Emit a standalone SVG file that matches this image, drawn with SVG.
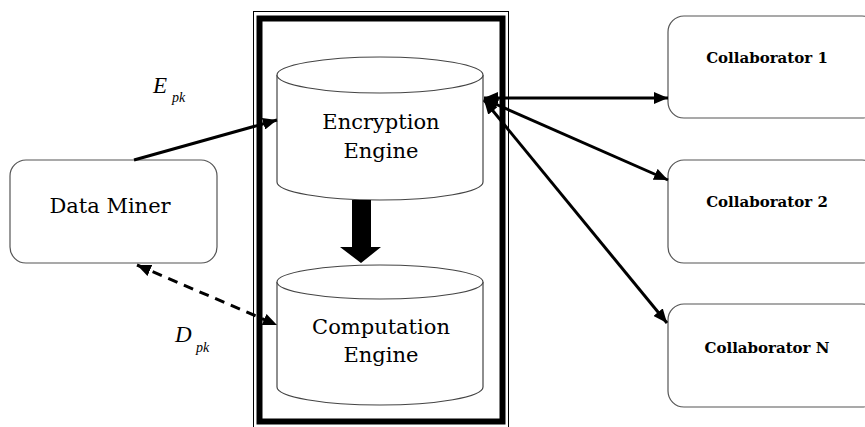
<svg xmlns="http://www.w3.org/2000/svg" width="865" height="427" viewBox="0 0 865 427">
<defs>
<style>
.box{fill:#fff;stroke:#555;stroke-width:1.2}
.cyl{fill:#fff;stroke:#444;stroke-width:1.2}
.t{font-family:"DejaVu Serif","Liberation Serif",serif;font-size:21px;fill:#000;text-anchor:middle}
.c{font-family:"DejaVu Serif","Liberation Serif",serif;font-size:15px;font-weight:bold;fill:#000;text-anchor:middle}
.lab{font-family:"Liberation Serif",serif;font-style:italic;fill:#000}
.ln{stroke:#000;stroke-width:3;fill:none}
</style>
<marker id="ah" markerUnits="userSpaceOnUse" markerWidth="16" markerHeight="12" refX="14" refY="6" orient="auto-start-reverse">
<path d="M0,0 L14,6 L0,12 Z" fill="#000"/>
</marker>
</defs>
<rect width="865" height="427" fill="#fff"/>
<g id="frame">
<rect x="253.5" y="11.5" width="255" height="430" fill="none" stroke="#000" stroke-width="1"/>
<rect x="259.5" y="18.5" width="243" height="403" fill="none" stroke="#000" stroke-width="6"/>
</g>
<g id="data-miner">
<rect class="box" x="10" y="160" width="207" height="103" rx="16"/>
<text class="t" x="110" y="213">Data Miner</text>
</g>
<g id="encryption-engine">
<path class="cyl" d="M277,75 L277,182 A103,18 0 0 0 483,182 L483,75"/>
<ellipse class="cyl" cx="380" cy="75" rx="103" ry="18"/>
<text class="t" x="381" y="129">Encryption</text>
<text class="t" x="381" y="158">Engine</text>
</g>
<g id="computation-engine">
<path class="cyl" d="M277,282 L277,387 A103,18 0 0 0 483,387 L483,282"/>
<ellipse class="cyl" cx="380" cy="282" rx="103" ry="17"/>
<text class="t" x="381" y="334">Computation</text>
<text class="t" x="381" y="362">Engine</text>
</g>
<g id="collaborator-1">
<rect class="box" x="668" y="16" width="210" height="102" rx="16"/>
<text class="c" x="767" y="63">Collaborator 1</text>
</g>
<g id="collaborator-2">
<rect class="box" x="668" y="160" width="210" height="103" rx="16"/>
<text class="c" x="767" y="207">Collaborator 2</text>
</g>
<g id="collaborator-n">
<rect class="box" x="668" y="304" width="210" height="103" rx="16"/>
<text class="c" x="767" y="353">Collaborator N</text>
</g>
<g id="connectors">
<line class="ln" x1="134" y1="160" x2="277" y2="120" marker-end="url(#ah)"/>
<line class="ln" x1="137" y1="265" x2="277" y2="325" stroke-dasharray="10,7" marker-start="url(#ah)" marker-end="url(#ah)"/>
<line class="ln" x1="484" y1="98" x2="668" y2="98" marker-start="url(#ah)" marker-end="url(#ah)"/>
<line class="ln" x1="484" y1="99" x2="668" y2="180" marker-start="url(#ah)" marker-end="url(#ah)"/>
<line class="ln" x1="484" y1="100" x2="667" y2="323" marker-start="url(#ah)" marker-end="url(#ah)"/>
<path d="M352,200 H371 V247 H381 L361,263 L340,247 H352 Z" fill="#000"/>
</g>
<g id="labels">
<text class="lab" x="153" y="93" font-size="23">E</text>
<text class="lab" x="172" y="102" font-size="14">pk</text>
<text class="lab" x="175" y="342" font-size="23">D</text>
<text class="lab" x="196" y="352" font-size="14">pk</text>
</g>
</svg>
